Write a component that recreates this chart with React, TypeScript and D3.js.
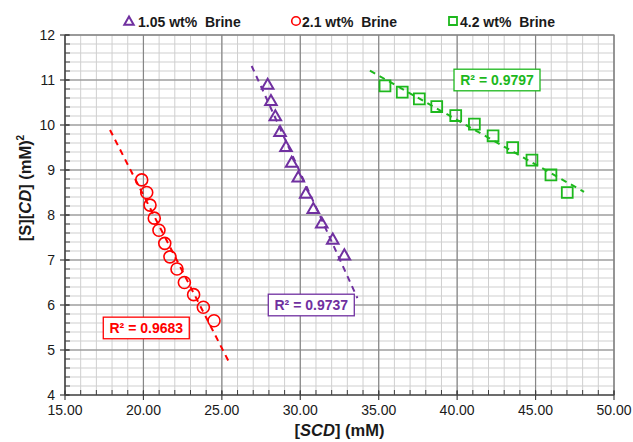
import React from 'react';
import * as d3 from 'd3';

// values
const brine105X = [27.92, 28.13, 28.41, 28.71, 29.09, 29.45, 29.87, 30.35, 30.83, 31.37, 32.07, 32.81];
const brine105Y = [10.9, 10.54, 10.2, 9.85, 9.52, 9.17, 8.84, 8.48, 8.14, 7.82, 7.46, 7.11];
const brine21X = [19.89, 20.21, 20.42, 20.69, 20.99, 21.36, 21.69, 22.14, 22.61, 23.2, 23.82, 24.5];
const brine21Y = [8.78, 8.5, 8.22, 7.93, 7.66, 7.37, 7.07, 6.8, 6.5, 6.23, 5.95, 5.65];
const brine42X = [35.4, 36.5, 37.59, 38.7, 39.91, 41.1, 42.29, 43.54, 44.77, 45.98, 47.02];
const brine42Y = [10.87, 10.73, 10.58, 10.41, 10.21, 10.02, 9.76, 9.5, 9.22, 8.89, 8.5];

const seriesNames = ['1.05 wt%  Brine', '2.1 wt%  Brine', '4.2 wt%  Brine'];
const r2Values = ['0.9737', '0.9683', '0.9797'];
// trendline extent (forecast backward / forward)
const trendFrom = [26.9, 17.87, 34.44];
const trendTo = [33.64, 25.52, 48.09];

const xTicks = [15, 20, 25, 30, 35, 40, 45, 50];
const yTicks = [4, 5, 6, 7, 8, 9, 10, 11, 12];

const W = 633, H = 442;
const left = 65, right = 614, top = 35, bottom = 395;
const font = '"Liberation Sans", Arial, sans-serif';

function fit(xs: number[], ys: number[]) {
  const mx = d3.mean(xs) as number, my = d3.mean(ys) as number;
  let sxy = 0, sxx = 0;
  xs.forEach((x, i) => { sxy += (x - mx) * (ys[i] - my); sxx += (x - mx) * (x - mx); });
  const slope = sxy / sxx;
  return { slope, intercept: my - slope * mx };
}

export default function App() {
  const x = d3.scaleLinear().domain([15, 50]).range([left, right]);
  const y = d3.scaleLinear().domain([4, 12]).range([bottom, top]);

  const colors = ['#7030a0', '#ff0000', '#1db81d'];
  const xs = [brine105X, brine21X, brine42X];
  const ys = [brine105Y, brine21Y, brine42Y];
  // where the R² boxes sit (left edge x, centre y in data units)
  const boxAt = [[27.96, 6.0], [17.44, 5.49], [39.8, 11.0]];

  const minorX = d3.range(15, 50.01, 1);
  const minorY = d3.range(4, 12.01, 0.2);

  const tri = d3.symbol().type(d3.symbolTriangle).size(58)() as string;
  const sq = d3.symbol().type(d3.symbolSquare).size(118)() as string;
  const triL = d3.symbol().type(d3.symbolTriangle).size(38)() as string;
  const sqL = d3.symbol().type(d3.symbolSquare).size(64)() as string;

  const marker = (k: number, cx: number, cy: number, legend = false) => {
    const c = colors[k];
    if (k === 1) return <circle cx={cx} cy={cy} r={legend ? 4.3 : 6} fill="none" stroke={c} strokeWidth={1.6} />;
    return <path d={k === 0 ? (legend ? triL : tri) : (legend ? sqL : sq)} transform={`translate(${cx},${cy + (k === 0 ? 1 : 0)})`} fill="none" stroke={c} strokeWidth={k === 0 ? 2 : 1.8} />;
  };

  const legendX = [129, 296, 453];
  const legendTextX = [138, 302, 460];

  return (
    <svg width={W} height={H} style={{ position: 'absolute', left: 0, top: 0, background: '#fff' }} fontFamily={font}>
      <rect x={0} y={0} width={W} height={H} fill="#fff" />
      {/* grid */}
      {minorX.map(v => <line key={'mx' + v} x1={x(v)} x2={x(v)} y1={top} y2={bottom} stroke="#cfcfcf" strokeWidth={1} />)}
      {minorY.map(v => <line key={'my' + v} x1={left} x2={right} y1={y(v)} y2={y(v)} stroke="#cfcfcf" strokeWidth={1} />)}
      {xTicks.map(v => <line key={'Mx' + v} x1={x(v)} x2={x(v)} y1={top} y2={bottom} stroke="#868686" strokeWidth={1.2} />)}
      {yTicks.map(v => <line key={'My' + v} x1={left} x2={right} y1={y(v)} y2={y(v)} stroke="#868686" strokeWidth={1.2} />)}
      <rect x={left} y={top} width={right - left} height={bottom - top} fill="none" stroke="#868686" strokeWidth={1.2} />

      {/* trendlines */}
      {xs.map((d, k) => {
        const f = fit(d, ys[k]);
        const a = trendFrom[k], b = trendTo[k];
        return <line key={'t' + k} x1={x(a)} y1={y(f.intercept + f.slope * a)} x2={x(b)} y2={y(f.intercept + f.slope * b)}
          stroke={colors[k]} strokeWidth={2} strokeDasharray="6,5" />;
      })}

      {/* points */}
      {xs.map((d, k) => d.map((v, i) => <g key={k + '-' + i}>{marker(k, x(v), y(ys[k][i]))}</g>))}

      {/* R² boxes */}
      {r2Values.map((r, k) => {
        const bx = x(boxAt[k][0]), by = y(boxAt[k][1]);
        return <g key={'r' + k}>
          <rect x={bx} y={by - 10.8} width={86} height={21.6} fill="#fff" stroke={colors[k]} strokeWidth={1.3} />
          <text x={bx + 43} y={by + 5} textAnchor="middle" fontSize={14} fontWeight="bold" fill={colors[k]}>R² = {r}</text>
        </g>;
      })}

      {/* axes */}
      <line x1={left} x2={left} y1={top} y2={bottom} stroke="#404040" strokeWidth={1.2} />
      <line x1={left} x2={right} y1={bottom} y2={bottom} stroke="#404040" strokeWidth={1.2} />
      {minorX.map(v => <line key={'tx' + v} x1={x(v)} x2={x(v)} y1={bottom - 5} y2={bottom} stroke="#404040" />)}
      {minorY.map(v => <line key={'ty' + v} x1={left} x2={left + 5} y1={y(v)} y2={y(v)} stroke="#404040" />)}
      {xTicks.map(v => <line key={'Tx' + v} x1={x(v)} x2={x(v)} y1={bottom - 4} y2={bottom + 5} stroke="#404040" strokeWidth={1.2} />)}
      {yTicks.map(v => <line key={'Ty' + v} x1={left - 5} x2={left + 4} y1={y(v)} y2={y(v)} stroke="#404040" strokeWidth={1.2} />)}
      {xTicks.map(v => <text key={'lx' + v} x={x(v)} y={415} textAnchor="middle" fontSize={14} fill="#1a1a1a">{d3.format('.2f')(v)}</text>)}
      {yTicks.map(v => <text key={'ly' + v} x={55} y={y(v) + 5} textAnchor="end" fontSize={14} fill="#1a1a1a">{v}</text>)}

      <text x={(left + right) / 2} y={436} textAnchor="middle" fontSize={16.5} fontWeight="bold" fill="#1a1a1a">
        [<tspan fontStyle="italic">SCD</tspan>] (mM)
      </text>
      <text transform="translate(31,188) rotate(-90)" textAnchor="middle" fontSize={16.5} fontWeight="bold" fill="#1a1a1a">
        [S][<tspan fontStyle="italic">CD</tspan>] (mM)<tspan dy={-7} fontSize={10}>2</tspan>
      </text>

      {/* legend */}
      {seriesNames.map((n, k) => <g key={'lg' + k}>
        {marker(k, legendX[k], 21, true)}
        <text x={legendTextX[k]} y={26.5} fontSize={14} fontWeight="bold" fill="#1a1a1a" style={{ whiteSpace: 'pre' }}>{n}</text>
      </g>)}
    </svg>
  );
}
